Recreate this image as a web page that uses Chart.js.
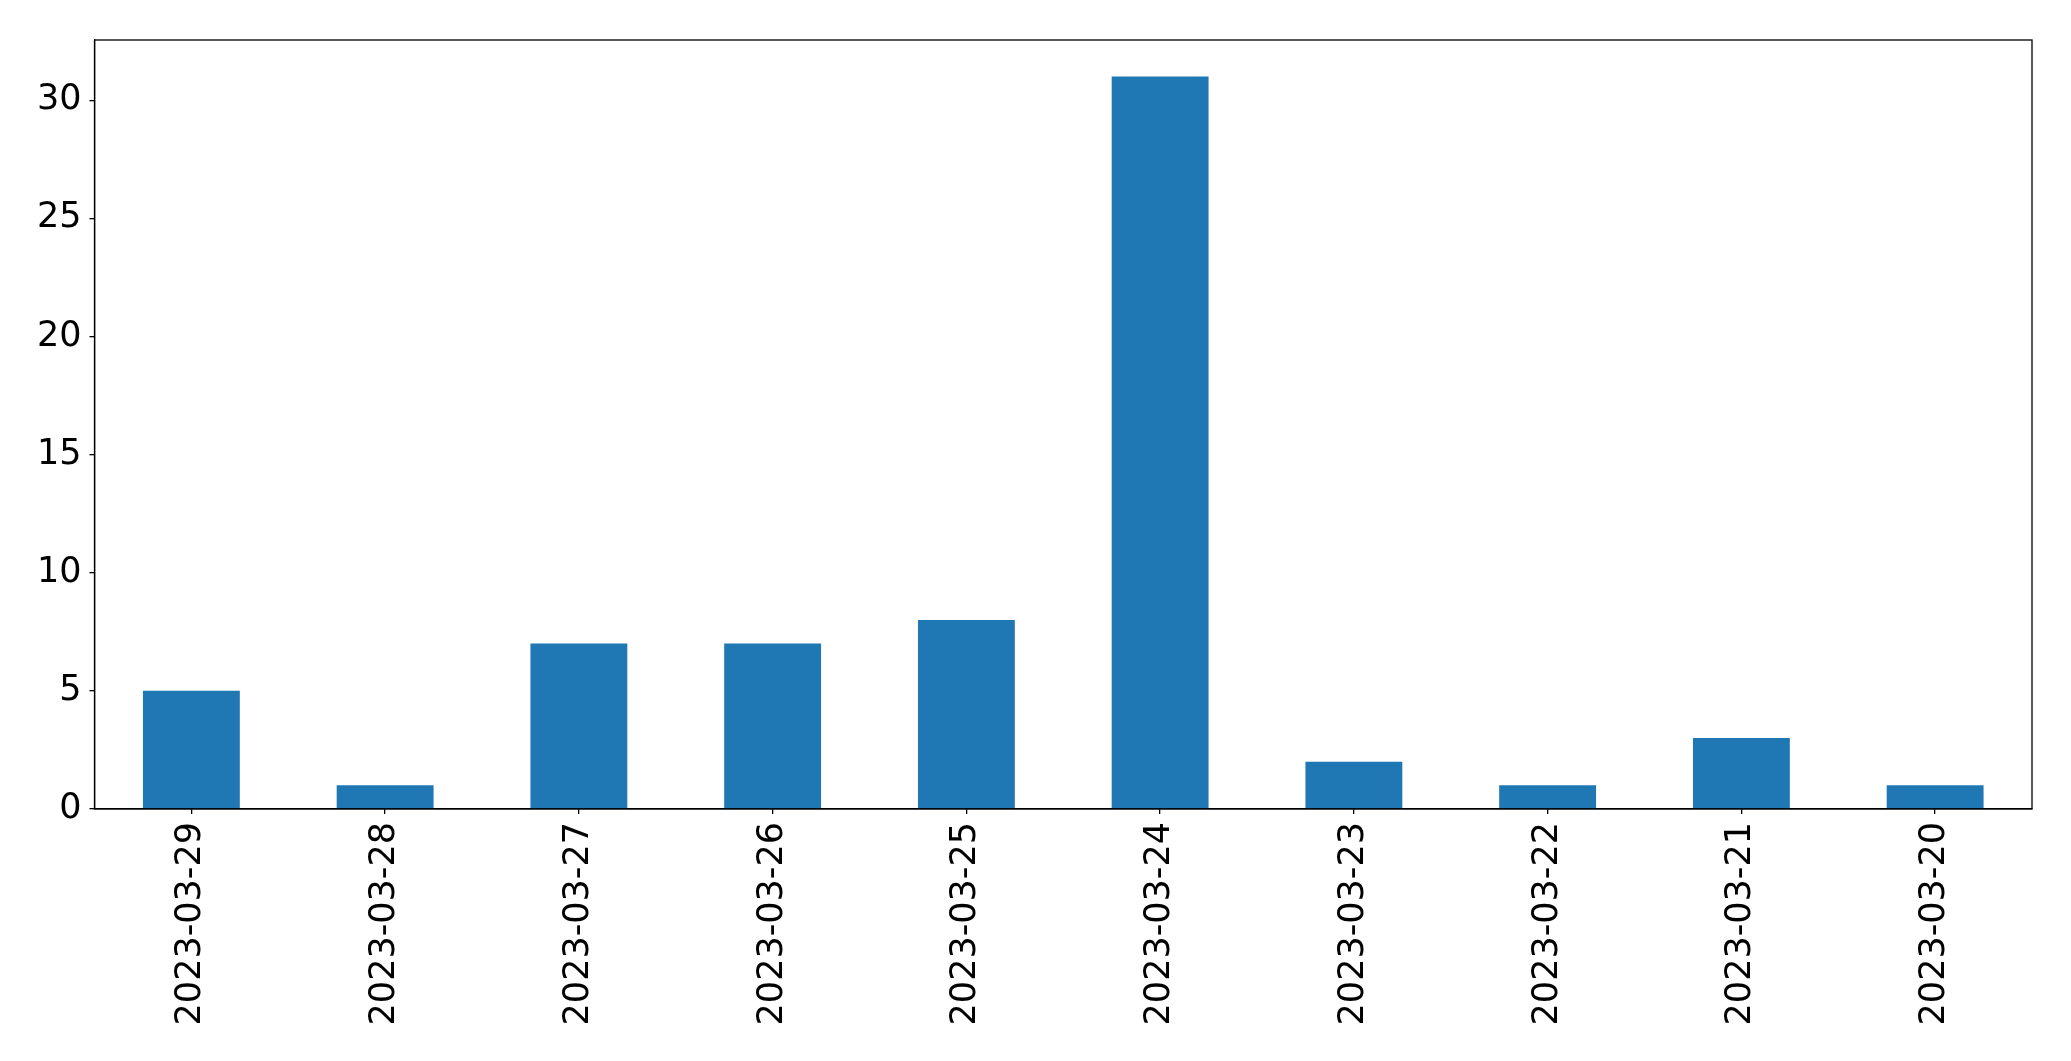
<!DOCTYPE html>
<html>
<head>
<meta charset="utf-8">
<script src="https://cdn.jsdelivr.net/npm/chart.js@4"></script>
<style>
  html, body { margin: 0; padding: 0; background: #fff; }
  #wrap { width: 2071px; height: 1061px; }
</style>
</head>
<body>
<div id="wrap"><canvas id="barChart" width="2071" height="1061"></canvas></div>
<script>
// dữ liệu
const dates = ["2023-03-29", "2023-03-28", "2023-03-27", "2023-03-26", "2023-03-25",
               "2023-03-24", "2023-03-23", "2023-03-22", "2023-03-21", "2023-03-20"];
const counts = [5, 1, 7, 7, 8, 31, 2, 1, 3, 1];
const yTicks = [0, 5, 10, 15, 20, 25, 30];

// khung viền quanh vùng vẽ
const frame = {
    id: "frame",
    afterDraw(chart) {
        const a = chart.chartArea;
        const ctx = chart.ctx;
        ctx.save();
        ctx.strokeStyle = "#000";
        ctx.lineWidth = 1.3;
        ctx.strokeRect(a.left, a.top, a.right - a.left, a.bottom - a.top);
        ctx.restore();
    }
};

Chart.defaults.font.family = "'DejaVu Sans', sans-serif";
Chart.defaults.color = "#000";

new Chart(document.getElementById("barChart"), {
    type: "bar",
    data: {
        labels: dates,
        datasets: [{
            data: counts,
            backgroundColor: "#1f77b4",
            categoryPercentage: 1.0,
            barPercentage: 0.5
        }]
    },
    options: {
        responsive: false,
        animation: false,
        layout: { padding: { top: 40, right: 39, bottom: 0, left: 0 } },
        plugins: { legend: { display: false }, tooltip: { enabled: false } },
        scales: {
            x: {
                offset: true,
                grid: { display: true, drawOnChartArea: false, drawTicks: true, tickLength: 5, color: "#000", lineWidth: 1.3, offset: false },
                border: { display: true, color: "#000", width: 1.3 },
                ticks: { font: { size: 35 }, maxRotation: 90, minRotation: 90, padding: 8, autoSkip: false },
                afterFit(s) { s.height = 252; }
            },
            y: {
                min: 0,
                max: 32.55,
                grid: { display: true, drawOnChartArea: false, drawTicks: true, tickLength: 5, color: "#000", lineWidth: 1.3 },
                border: { display: true, color: "#000", width: 1.3 },
                ticks: { font: { size: 35 }, padding: 8 },
                afterBuildTicks(s) { s.ticks = yTicks.map(v => ({ value: v })); },
                afterFit(s) { s.width = 94.5; }
            }
        }
    },
    plugins: [frame]
});
</script>
</body>
</html>
